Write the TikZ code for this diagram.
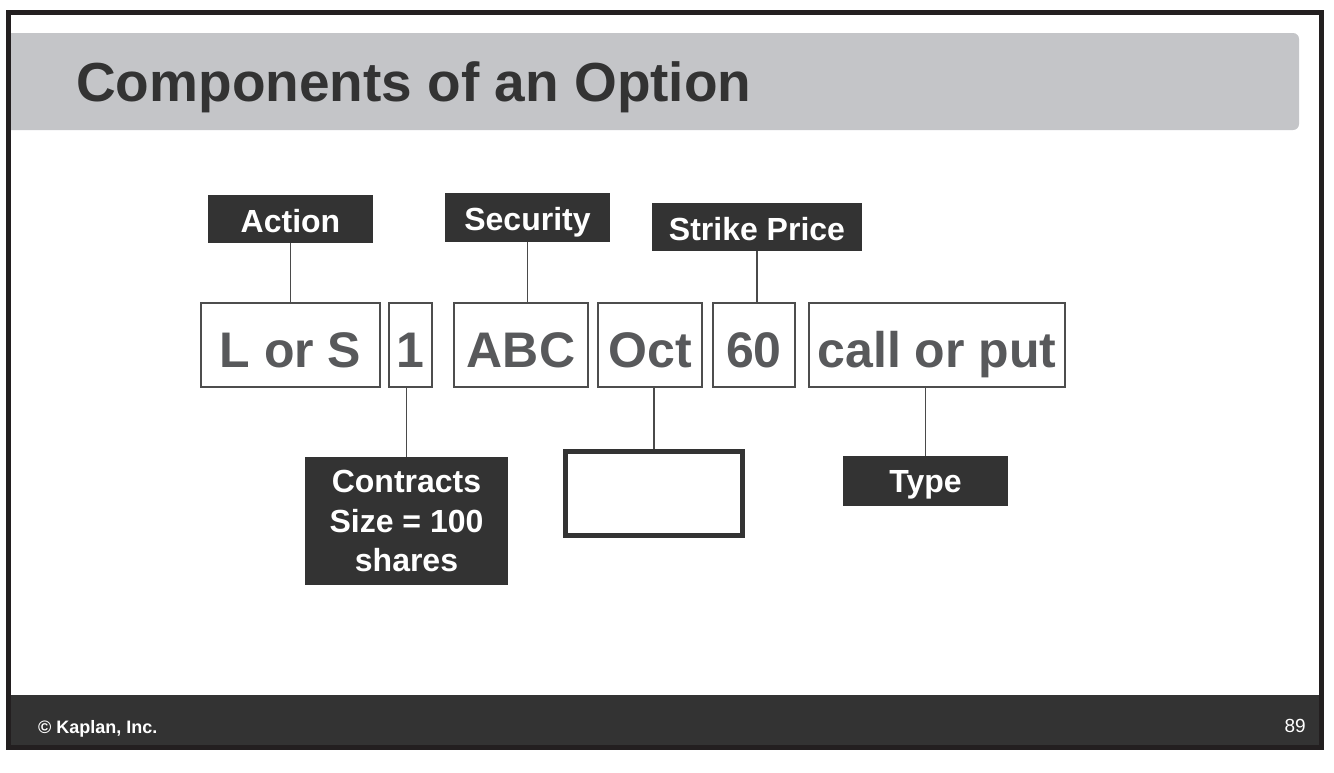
\documentclass[tikz,border=0pt]{standalone}
\usepackage{fontspec}
\setmainfont{Liberation Sans}
\definecolor{framec}{HTML}{231F20}
\definecolor{footc}{HTML}{333333}
\definecolor{titleg}{HTML}{C4C5C8}
\definecolor{titlet}{HTML}{333333}
\definecolor{boxt}{HTML}{58595B}
\definecolor{boxl}{HTML}{4D4D4D}
\definecolor{labf}{HTML}{333333}
\definecolor{conn}{HTML}{4A4A4A}
\tikzset{
  partbox/.style={draw=boxl, line width=2pt, fill=white, inner sep=0pt,
    minimum height=84pt, text=boxt, font=\fontsize{50}{52}\selectfont\bfseries,
    text height=44pt, text depth=0pt},
  labbox/.style={fill=labf, inner sep=0pt, text=white,
    font=\fontsize{32}{36}\selectfont\bfseries, text height=26pt, text depth=0pt},
  link/.style={draw=conn, line width=1.8pt}
}
\begin{document}
\begin{tikzpicture}[x=1pt,y=-1pt]
\useasboundingbox (0,0) rectangle (1334,772);
\fill[white] (0,0) rectangle (1334,772);
% title bar
\begin{scope}
\clip (8,0) rectangle (1334,772);
\fill[titleg, rounded corners=6pt] (-20,33) rectangle (1299,130);
\end{scope}
\node[anchor=base west, text=titlet, inner sep=0pt, font=\fontsize{55}{58}\selectfont\bfseries] (title) at (76,101) {Components of an Option};
% footer
\fill[footc] (8,695) rectangle (1321,747.5);
\node[anchor=base west, text=white, inner sep=0pt, font=\fontsize{18}{20}\selectfont\bfseries] (copy) at (38,733) {© Kaplan, Inc.};
\node[anchor=base east, text=white, inner sep=0pt, font=\fontsize{19}{20}\selectfont] (page) at (1306,732) {89};
% frame
\draw[framec, line width=5pt] (8,12.5) rectangle (1321,747.5);
% top row boxes
\node[partbox, minimum width=179pt] (ls) at (290.5,345) {L or S};
\node[partbox, minimum width=43pt] (one) at (410.5,345) {1};
\node[partbox, minimum width=134pt] (abc) at (521,345) {ABC};
\node[partbox, minimum width=104pt] (oct) at (650,345) {Oct};
\node[partbox, minimum width=82pt] (sixty) at (754,345) {60};
\node[partbox, minimum width=256pt] (cop) at (937,345) {call or put};
% labels
\node[labbox, minimum width=165pt, minimum height=48pt] (action) at (290.5,219) {Action};
\node[labbox, minimum width=165pt, minimum height=49pt] (security) at (527.5,217.5) {Security};
\node[labbox, minimum width=210pt, minimum height=48pt] (strike) at (757,227) {Strike Price};
\node[labbox, minimum width=203pt, minimum height=128pt, align=center,
      font=\fontsize{32}{39.5}\selectfont\bfseries, text height=, text depth=] (contracts) at (406.5,521) {Contracts\\Size = 100\\shares};
\node[draw=labf, line width=5pt, fill=white, minimum width=177pt, minimum height=84pt, inner sep=0pt] (month) at (654,493.5) {};
\node[labbox, minimum width=165pt, minimum height=50pt, text height=23pt] (type) at (925.5,481) {Type};
% connectors
\draw[link] (action.south) -- (ls.north);
\draw[link] (security.south) -- (security.south |- abc.north);
\draw[link] (strike.south) -- (strike.south |- sixty.north);
\draw[link] (contracts.north |- one.south) -- (contracts.north);
\draw[link] (month.north |- oct.south) -- (month.north);
\draw[link] (type.north |- cop.south) -- (type.north);
\end{tikzpicture}
\end{document}
